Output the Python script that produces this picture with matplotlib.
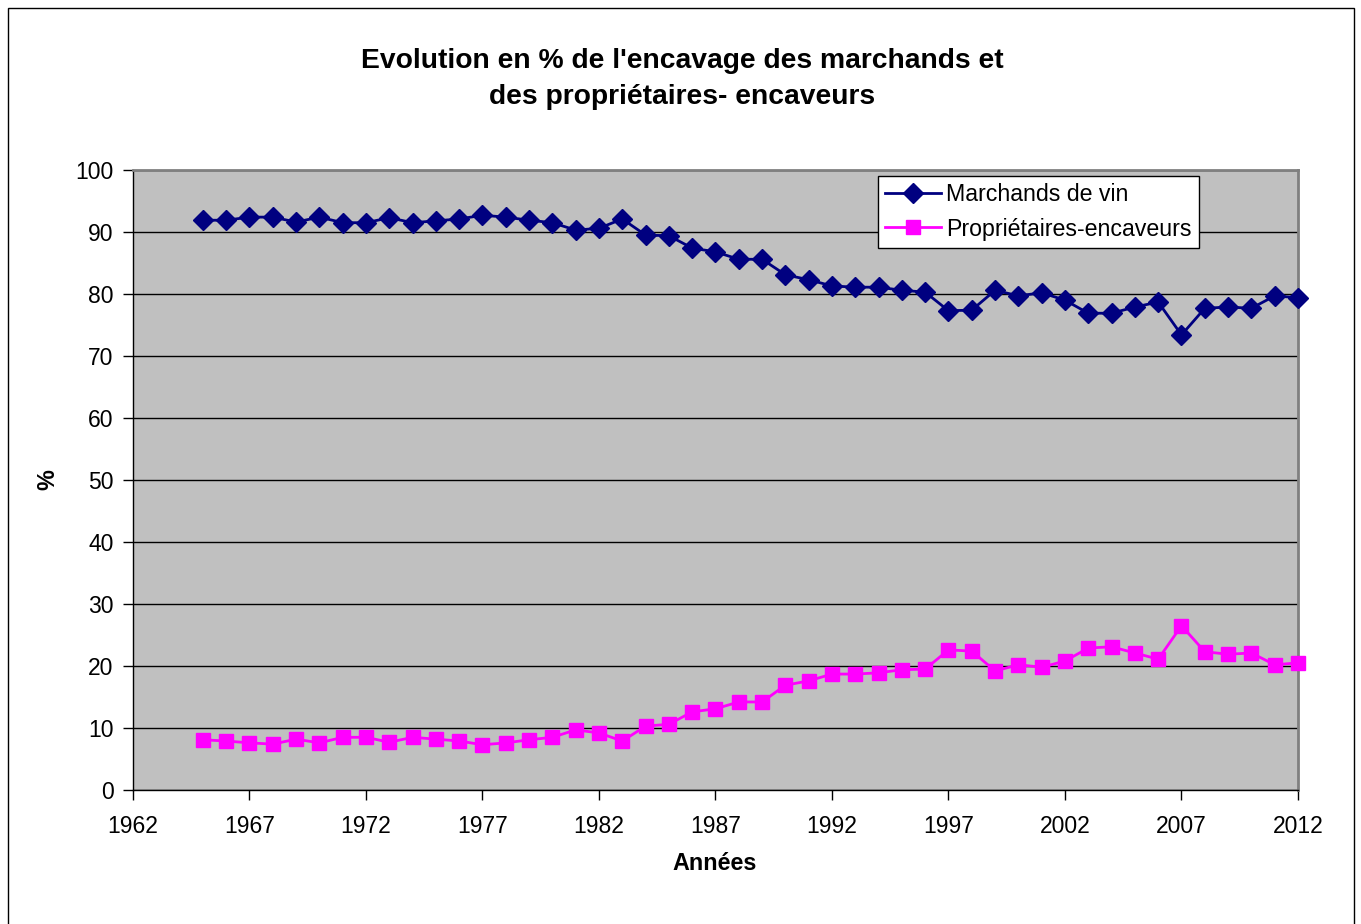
import matplotlib
matplotlib.use("Agg")
import matplotlib.pyplot as plt
from matplotlib.patches import Rectangle

plt.rcParams['font.family'] = ['Liberation Sans', 'DejaVu Sans']

years = list(range(1965, 2013))
marchands = [91.9, 91.9, 92.4, 92.4, 91.6, 92.4, 91.5, 91.5, 92.3, 91.5,
             91.8, 92.1, 92.7, 92.4, 91.9, 91.5, 90.3, 90.6, 92.1, 89.5,
             89.4, 87.4, 86.8, 85.6, 85.6, 83.1, 82.3, 81.3, 81.1, 81.1,
             80.6, 80.3, 77.3, 77.4, 80.6, 79.7, 80.2, 79.0, 76.9, 76.9,
             77.9, 78.7, 73.4, 77.7, 77.9, 77.7, 79.7, 79.4]
proprietaires = [8.1, 7.9, 7.6, 7.4, 8.2, 7.6, 8.5, 8.5, 7.7, 8.5,
                 8.2, 7.9, 7.3, 7.6, 8.1, 8.5, 9.7, 9.2, 7.9, 10.3,
                 10.6, 12.6, 13.1, 14.2, 14.2, 16.9, 17.6, 18.7, 18.7, 18.9,
                 19.4, 19.5, 22.6, 22.4, 19.2, 20.2, 19.8, 20.8, 22.9, 23.1,
                 22.1, 21.1, 26.5, 22.3, 21.9, 22.1, 20.2, 20.5]
xticks = list(range(1962, 2013, 5))
yticks = list(range(0, 101, 10))

fig = plt.figure(figsize=(13.61, 9.24), dpi=100)
fig.patches.append(Rectangle((8/1361, -10/924), 1346/1361, 926/924, transform=fig.transFigure,
                             fill=False, edgecolor='black', linewidth=1.0))
ax = fig.add_axes([133/1361, 1-790/924, 1165/1361, 620/924])
ax.set_facecolor('#C0C0C0')

ax.plot(years, marchands, color='#000080', marker='D', markersize=10, linewidth=2,
        label='Marchands de vin', zorder=3, clip_on=False)
ax.plot(years, proprietaires, color='#FF00FF', marker='s', markersize=10, linewidth=2,
        label='Propriétaires-encaveurs', zorder=3, clip_on=False)

ax.set_xlim(1962, 2012)
ax.set_ylim(0, 100)
ax.set_xticks(xticks)
ax.set_yticks(yticks)
ax.tick_params(axis='both', labelsize=16.5, direction='out', length=7, width=1, color='black')
ax.tick_params(axis='x', pad=11)
ax.tick_params(axis='y', pad=7)
ax.grid(axis='y', color='black', linewidth=1)
ax.set_axisbelow(True)
for side in ['top', 'right']:
    ax.spines[side].set_color('#808080')
    ax.spines[side].set_linewidth(2)
for side in ['left', 'bottom']:
    ax.spines[side].set_color('black')
    ax.spines[side].set_linewidth(1)

fig.text(715/1361, 1-863/924, 'Années', ha='center', va='center', fontsize=16.8, fontweight='bold')
fig.text(48/1361, 1-480/924, '%', ha='center', va='center', fontsize=16.8, fontweight='bold', rotation=90)

fig.text(682/1361, 1-79/924, "Evolution en % de l'encavage des marchands et\ndes propriétaires- encaveurs",
         ha='center', va='center', fontsize=20.3, fontweight='bold', linespacing=1.5)

leg = ax.legend(loc='upper left', bbox_to_anchor=((878-133)/1165, (790-176)/620),
                fontsize=16.7, frameon=True, fancybox=False, edgecolor='black',
                framealpha=1, borderpad=0.3, handlelength=2.4, labelspacing=0.5,
                handletextpad=0.25, borderaxespad=0)
leg.get_frame().set_linewidth(1)

fig.savefig('out.png', dpi=100)
